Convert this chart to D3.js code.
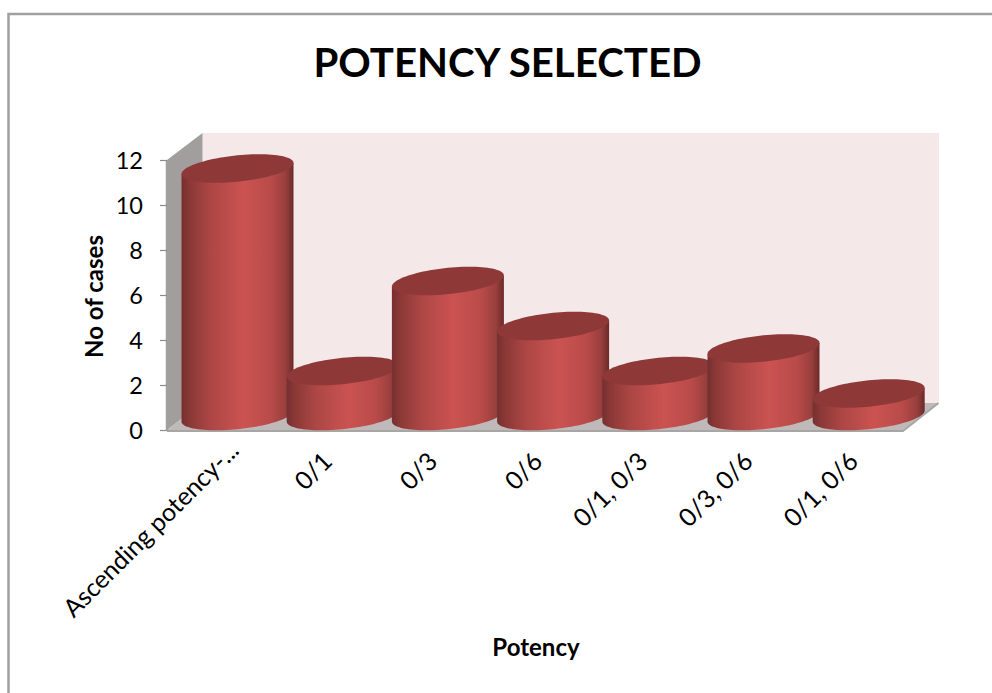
<!DOCTYPE html>
<html><head><meta charset="utf-8">
<script src="https://cdnjs.cloudflare.com/ajax/libs/d3/7.8.5/d3.min.js"></script>
<style>html,body{margin:0;background:#fff}svg{display:block}text{font-family:Lato,"Open Sans",sans-serif;fill:#000}</style>
</head><body><svg id="c" width="992" height="693"></svg>
<script>
const categories = ["Ascending potency-...", "0/1", "0/3", "0/6", "0/1, 0/3", "0/3, 0/6", "0/1, 0/6"];
const values = [11, 2, 6, 4, 2, 3, 1];
const yTicks = [0, 2, 4, 6, 8, 10, 12];
const title = "POTENCY SELECTED", xTitle = "Potency", yTitle = "No of cases";

const svg = d3.select("#c");
const defs = svg.append("defs");
const grad = defs.append("linearGradient").attr("id","side");
[[0,"#74302f"],[.07,"#8a3836"],[.25,"#ab4644"],[.55,"#cb5351"],[.8,"#b84b49"],[.93,"#983f3d"],[1,"#6a2a29"]]
 .forEach(([o,c])=>grad.append("stop").attr("offset",o).attr("stop-color",c));

svg.append("rect").attr("x",8.5).attr("y",14).attr("width",1000).attr("height",700)
  .attr("fill","#fff").attr("stroke","#a0a0a0").attr("stroke-width",2.5);

const y = d3.scaleLinear().domain([0,12]).range([430,160]);
const x = d3.scalePoint().domain(categories).range([237.5,868.7]);
const depthX = 35.5, depthY = -27;
const frontL = 167, frontR = 903;

// walls
svg.append("rect").attr("x",frontL+depthX).attr("y",y(12)+depthY).attr("width",frontR-frontL+.5).attr("height",y(0)-y(12))
  .attr("fill","#f4e8e8");
svg.append("path").attr("d",`M${frontL},${y(12)}L${frontL+depthX},${y(12)+depthY}V${y(0)+depthY}L${frontL},${y(0)}Z`)
  .attr("fill","#a29e9e");
svg.append("path").attr("d",`M${frontL},${y(0)}L${frontL+depthX},${y(0)+depthY}H${frontR+depthX}L${frontR},${y(0)}Z`)
  .attr("fill","#bfb9b9");
svg.append("path").attr("d",`M${frontL},${y(0)+1}H${frontR}L${frontR+depthX},${y(0)+depthY}`)
  .attr("fill","none").attr("stroke","#a8a5a5").attr("stroke-width",2);

// axis
const axis = d3.axisLeft(y).tickValues(yTicks).tickSize(7).tickPadding(17).tickFormat(d3.format("d"));
const ga = svg.append("g").attr("transform",`translate(${frontL},0)`).call(axis);
ga.select(".domain").attr("stroke","#a0a0a0").attr("stroke-width",2.5).attr("d",`M0,${y(12)}V${y(0)}`);
ga.selectAll(".tick line").attr("stroke","#8c8c8c").attr("stroke-width",1.2);
ga.selectAll(".tick text").style("font-size","23.5px").attr("dy","0.36em").attr("fill","#000");

// cylinders
const rx = 56, skew = 5.5, ry = 13.2, baseOffset = 14;
const ts = d3.range(0, 2*Math.PI+.001, Math.PI/48);
const pt = (cx,cy,t)=>[cx+rx*Math.cos(t), cy-skew*Math.cos(t)+ry*Math.sin(t)];
const line = d3.line();
const bars = svg.append("g").selectAll("g").data(values).join("g");
bars.append("path").attr("fill","url(#side)").attr("d",(v,i)=>{
  const cx = x(categories[i]), top = y(v)-baseOffset, base = y(0)-baseOffset;
  const lower = ts.filter(t=>t<=Math.PI+.001).map(t=>pt(cx,base,t));
  return line([[cx+rx, top-skew], ...lower, [cx-rx, top+skew]])+"Z";
});
bars.append("path").attr("fill","#8e3938").attr("d",(v,i)=>{
  const cx = x(categories[i]), top = y(v)-baseOffset;
  return line(ts.map(t=>pt(cx,top,t)))+"Z";
});

// category labels: the truncated label sits higher and further right, as in the source
svg.append("g").selectAll("text").data(categories).join("text")
  .attr("text-anchor","end").style("font-size","25px")
  .attr("transform",d=>{
    const cut = d.endsWith("...");
    return `translate(${x(d)+(cut?3:-9)},${cut?452:463}) rotate(-45)`;
  })
  .text(d=>d);

svg.append("text").attr("x",507.5).attr("y",77).attr("text-anchor","middle")
  .style("font-size","40.2px").style("font-weight","700").text(title);
svg.append("text").attr("x",536).attr("y",656).attr("text-anchor","middle")
  .style("font-size","24px").style("font-weight","700").text(xTitle);
svg.append("text").attr("transform","translate(103,296.5) rotate(-90)").attr("text-anchor","middle")
  .style("font-size","24px").style("font-weight","700").text(yTitle);
</script></body></html>
